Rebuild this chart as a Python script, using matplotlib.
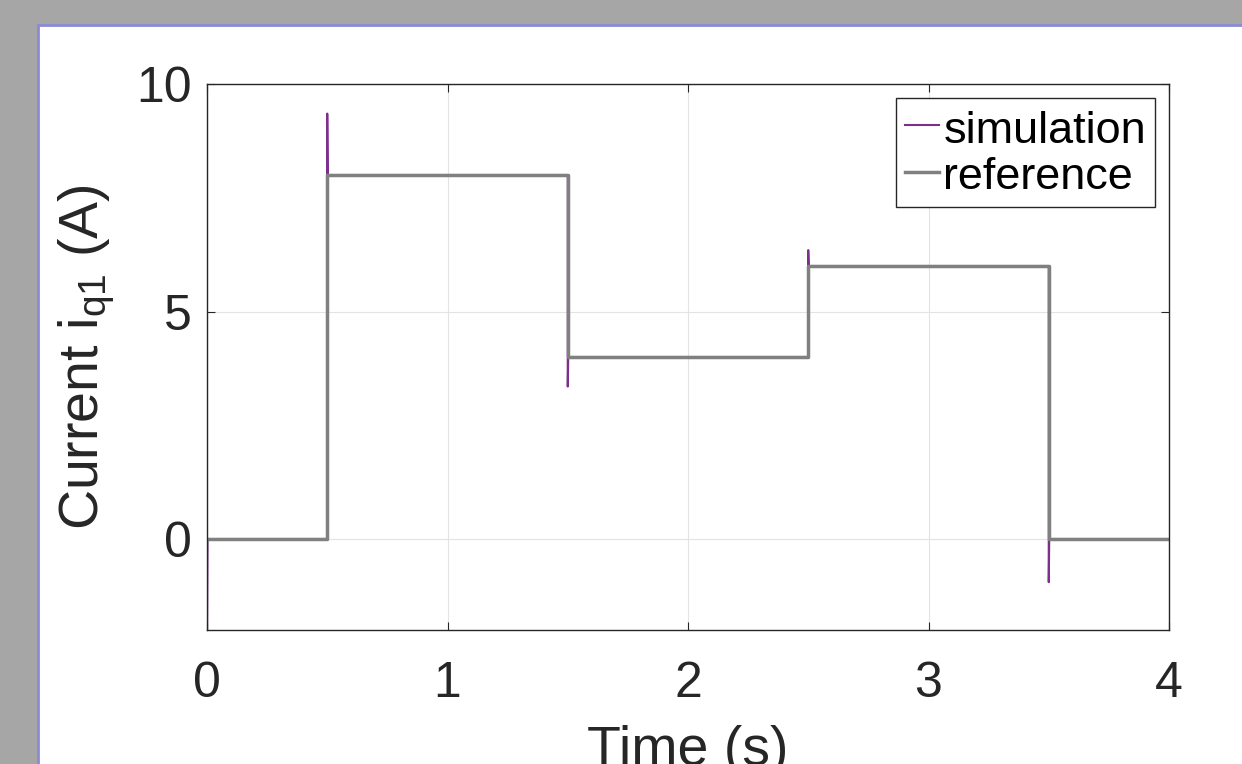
import matplotlib.pyplot as plt
from matplotlib.patches import Rectangle

plt.rcParams['font.family'] = ['Liberation Sans', 'DejaVu Sans']
plt.rcParams['mathtext.fontset'] = 'custom'
plt.rcParams['mathtext.rm'] = 'Liberation Sans'
plt.rcParams['mathtext.it'] = 'Liberation Sans'

# reference step profile
ref_t = [0, 0.5, 0.5, 1.5, 1.5, 2.5, 2.5, 3.5, 3.5, 4]
ref_i = [0, 0, 8, 8, 4, 4, 6, 6, 0, 0]

# simulated current, overshoot at each step
sim_t = [0, 0, 0.002, 0.5, 0.5, 0.502, 1.5, 1.5, 1.502, 2.5, 2.5, 2.502, 3.5, 3.5, 3.502, 4]
sim_i = [0, -2.3, 0, 0, 9.35, 8, 8, 3.35, 4, 4, 6.35, 6, 6, -0.95, 0, 0]

xticks = [0, 1, 2, 3, 4]
yticks = [0, 5, 10]

W, H = 1242, 764
fig = plt.figure(figsize=(W / 100, H / 100), dpi=100)
fig.patch.set_facecolor('#a6a6a6')

# white window panel with bluish border
panel = Rectangle((38 / W, -0.01), 1.0, 1.01 - 25 / H, transform=fig.transFigure,
                  facecolor='white', edgecolor='#8a8ad6', linewidth=2, zorder=-10)
fig.add_artist(panel)

ax = fig.add_axes([207 / W, 1 - 630 / H, (1169 - 207) / W, (630 - 84) / H])
ax.set_zorder(1)
ax.plot(sim_t, sim_i, color='#7E2F8E', linewidth=1.5, label='simulation')
ax.plot(ref_t, ref_i, color='#808080', linewidth=2.5, label='reference')

ax.set_xlim(0, 4)
ax.set_ylim(-2, 10)
ax.set_xticks(xticks)
ax.set_yticks(yticks)
ax.grid(True, color='#e3e3e3', linewidth=0.8)
ax.set_axisbelow(True)

for s in ax.spines.values():
    s.set_color('#262626')
    s.set_linewidth(1.0)
ax.tick_params(direction='in', top=True, right=True, length=6, colors='#262626',
               labelsize=36, labelcolor='#262626')
ax.tick_params(axis='x', pad=22)
ax.tick_params(axis='y', pad=11)

ax.set_xlabel('Time (s)', fontsize=40, color='#262626', labelpad=13)
ax.set_ylabel('Current i$_{\\mathregular{q1}}$ (A)', fontsize=40, color='#262626', labelpad=14)

leg = ax.legend(loc='upper right', fontsize=32.4, handlelength=0.75, handleheight=1.0,
                handletextpad=0.1, borderpad=0.2, labelspacing=0.05, borderaxespad=0.31,
                fancybox=False, framealpha=1, edgecolor='#262626')
leg.get_frame().set_linewidth(1.0)
for t in leg.get_texts():
    t.set_color('black')

fig.savefig('out.png', dpi=100, facecolor=fig.get_facecolor())
